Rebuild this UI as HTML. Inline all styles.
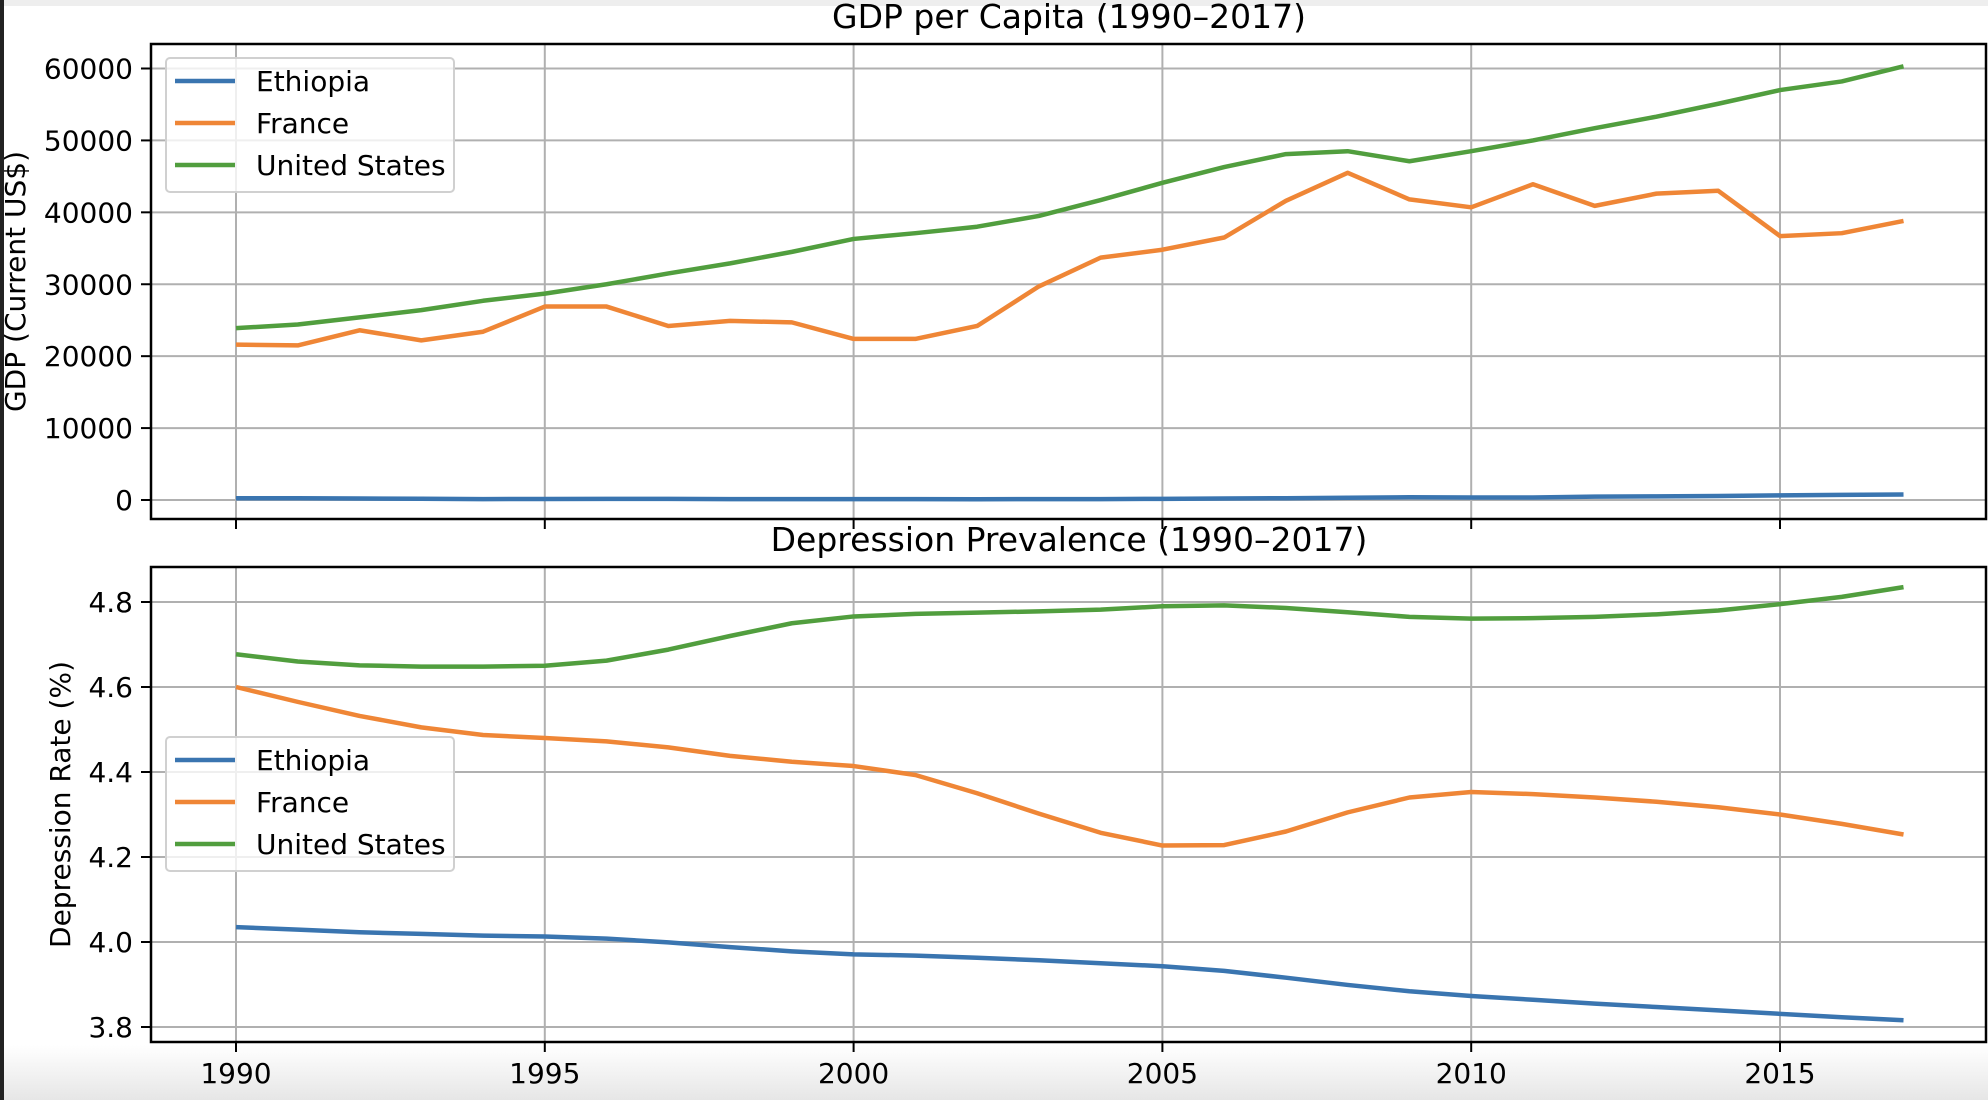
<!DOCTYPE html>
<html><head><meta charset="utf-8"><style>
body{margin:0;width:1988px;height:1100px;overflow:hidden;background:#fff;font-family:"DejaVu Sans","Liberation Sans",sans-serif}
svg text{font-family:"DejaVu Sans","Liberation Sans",sans-serif}
</style></head><body>
<svg id="chart" width="1988" height="1100" xmlns="http://www.w3.org/2000/svg">
<defs><linearGradient id="bg" x1="0" y1="0" x2="0" y2="1"><stop offset="0" stop-color="#fff"/><stop offset="1" stop-color="#e6e6e6"/></linearGradient></defs>
<rect x="0" y="1045" width="1988" height="55" fill="url(#bg)"/>
<rect x="0" y="0" width="1988" height="6" fill="#eeeeee"/>
<rect x="0" y="0" width="4" height="1100" fill="#222"/>
<g id="g"></g>
</svg>
<script>
const years=[1990,1991,1992,1993,1994,1995,1996,1997,1998,1999,2000,2001,2002,2003,2004,2005,2006,2007,2008,2009,2010,2011,2012,2013,2014,2015,2016,2017];
const gdpEthiopia=[250,250,200,170,130,140,150,160,130,120,120,120,110,120,130,160,200,250,320,380,340,350,470,500,560,640,710,770];
const gdpFrance=[21600,21500,23600,22200,23400,26900,26900,24200,24900,24700,22400,22400,24200,29700,33700,34800,36500,41600,45500,41800,40700,43900,40900,42600,43000,36700,37100,38800];
const gdpUS=[23900,24400,25400,26400,27700,28700,30000,31500,32900,34500,36300,37100,38000,39500,41700,44100,46300,48100,48500,47100,48500,50000,51700,53300,55100,57000,58200,60300];
const depEthiopia=[4.035,4.029,4.023,4.019,4.015,4.013,4.008,3.999,3.988,3.978,3.971,3.968,3.963,3.957,3.950,3.943,3.932,3.916,3.899,3.884,3.873,3.864,3.855,3.847,3.839,3.831,3.823,3.816];
const depFrance=[4.600,4.565,4.532,4.505,4.487,4.480,4.472,4.458,4.438,4.424,4.414,4.393,4.350,4.302,4.257,4.227,4.228,4.260,4.305,4.340,4.353,4.348,4.340,4.330,4.317,4.300,4.278,4.253];
const depUS=[4.677,4.660,4.651,4.648,4.648,4.650,4.662,4.688,4.720,4.750,4.766,4.772,4.775,4.778,4.782,4.790,4.792,4.786,4.776,4.765,4.761,4.762,4.765,4.771,4.780,4.795,4.812,4.835];
const xTicks=[1990,1995,2000,2005,2010,2015];
const gdpTicks=[0,10000,20000,30000,40000,50000,60000];
const depTicks=[3.8,4.0,4.2,4.4,4.6,4.8];
const seriesNames=["Ethiopia","France","United States"];
const colors=["#3a75b0","#ef8636","#519e3e"];

const NS="http://www.w3.org/2000/svg";
const g=document.getElementById('g');
function el(t,a,p){const e=document.createElementNS(NS,t);for(const k in a)e.setAttribute(k,a[k]);(p||g).appendChild(e);return e;}
const L=151,R=1986;
const xScale=v=>236+(v-1990)*(1780-236)/25;
function yTop(v){return 500+(v-0)*(68.5-500)/60000;}
function yBot(v){return 1027+(v-3.8)*(602-1027)/1.0;}

function panel(name,top,bottom,yf,ticks,fmt,series,title,ylabel,ylx,legendY,showX){
  const grp=el('g',{});
  
  
  xTicks.forEach(t=>{const x=xScale(t);
    const gl=el('line',{x1:x,x2:x,y1:top,y2:bottom,stroke:'#b0b0b0','stroke-width':2},grp);
    
    el('line',{x1:x,x2:x,y1:bottom,y2:bottom+10,stroke:'#000','stroke-width':2},grp);
    if(showX){const tx=el('text',{x:x,y:1083,'font-size':28,'text-anchor':'middle',fill:'#000'},grp);tx.textContent=t;
      }
  });
  ticks.forEach(t=>{const y=yf(t);
    const gl=el('line',{x1:L,x2:R,y1:y,y2:y,stroke:'#b0b0b0','stroke-width':2},grp);
    
    el('line',{x1:L-10,x2:L,y1:y,y2:y,stroke:'#000','stroke-width':2},grp);
    const tx=el('text',{x:L-18,y:y+10,'font-size':28,'text-anchor':'end',fill:'#000'},grp);tx.textContent=fmt(t);
    
  });
  series.forEach((s,i)=>{
    const p=el('polyline',{points:s.map((v,j)=>xScale(years[j])+','+yf(v)).join(' '),fill:'none',stroke:colors[i],'stroke-width':4.5,'stroke-linejoin':'round'},grp);
    
    
  });
  const fr=el('rect',{x:L,y:top,width:R-L,height:bottom-top,fill:'none',stroke:'#000','stroke-width':2.5},grp);
  
  const tt=el('text',{x:1069,y:top-16,'font-size':33,'text-anchor':'middle',fill:'#000'},grp);tt.textContent=title;
  
  const cy=(top+bottom)/2;
  const yl=el('text',{x:ylx,y:cy,'font-size':28,'text-anchor':'middle',fill:'#000',transform:`rotate(-90 ${ylx} ${cy})`},grp);yl.textContent=ylabel;
  
  const lg=el('g',{},grp);
  
  el('rect',{x:166,y:legendY,width:288,height:134,rx:4,fill:'#fff','fill-opacity':0.8,stroke:'#d0d0d0','stroke-width':2},lg);
  seriesNames.forEach((n,i)=>{const y=legendY+23+i*42;
    const e=el('g',{},lg);
    
    el('line',{x1:175,x2:235,y1:y,y2:y,stroke:colors[i],'stroke-width':4.5},e);
    const t=el('text',{x:256,y:y+10,'font-size':28,fill:'#000'},e);t.textContent=n;
  });
}
panel('gdp-panel',44,519,yTop,gdpTicks,v=>String(v),[gdpEthiopia,gdpFrance,gdpUS],'GDP per Capita (1990–2017)','GDP (Current US$)',25,58,false);
panel('depression-panel',567,1042,yBot,depTicks,v=>v.toFixed(1),[depEthiopia,depFrance,depUS],'Depression Prevalence (1990–2017)','Depression Rate (%)',70,737,true);
</script>
</body></html>
